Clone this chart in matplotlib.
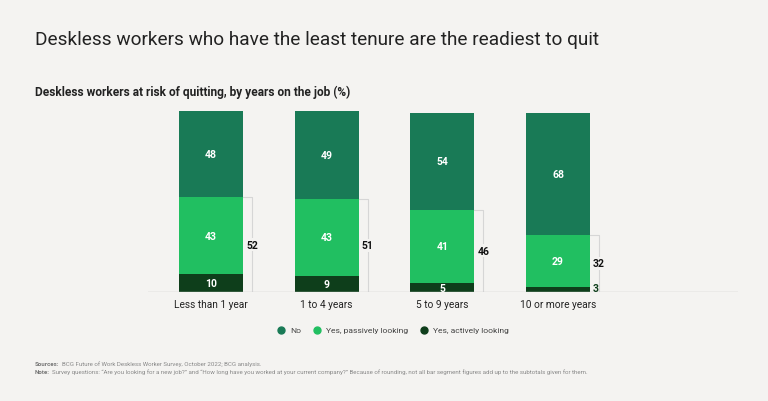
import matplotlib
matplotlib.use("Agg")
import matplotlib.pyplot as plt
from matplotlib.lines import Line2D

plt.rcParams['font.family'] = ['Roboto', 'DejaVu Sans']

categories = ["Less than 1 year", "1 to 4 years", "5 to 9 years", "10 or more years"]
no_vals = [48, 49, 54, 68]
passive_vals = [43, 43, 41, 29]
active_vals = [10, 9, 5, 3]
subtotals = [52, 51, 46, 32]
series_names = ["No", "Yes, passively looking", "Yes, actively looking"]

BG = "#f4f3f1"
C_NO = "#197a56"
C_PAS = "#21bf61"
C_ACT = "#0e3e1b"

fig = plt.figure(figsize=(7.68, 4.02), dpi=100, facecolor=BG)
W, H = 768, 402
ax_left, ax_right = 148 / W, 738 / W
ax_bottom = (H - 293) / H
ax_h = 197 / H
ax = fig.add_axes([ax_left, ax_bottom, ax_right - ax_left, ax_h])
ax.set_facecolor(BG)

x = list(range(len(categories)))
bw = 0.553
ax.bar(x, active_vals, width=bw, color=C_ACT, zorder=3)
ax.bar(x, passive_vals, width=bw, bottom=active_vals, color=C_PAS, zorder=3)
bot2 = [a + p for a, p in zip(active_vals, passive_vals)]
ax.bar(x, no_vals, width=bw, bottom=bot2, color=C_NO, zorder=3)

ax.set_xlim(-0.545, 4.556)
ax.set_ylim(0, 110)
for s in ax.spines.values():
    s.set_visible(False)
ax.set_yticks([])
ax.set_xticks(x)
ax.set_xticklabels(categories, fontsize=7.3, color="#222222")
ax.tick_params(axis='x', length=0, pad=5)
ax.axhline(0, color="#c8c8c8", lw=1.0, zorder=4)

for i in x:
    a, p, n = active_vals[i], passive_vals[i], no_vals[i]
    ax.text(i, a + p + n / 2, str(n), ha='center', va='center', color='white',
            fontsize=7.5, fontweight='bold', zorder=5)
    ax.text(i, a + p / 2, str(p), ha='center', va='center', color='white',
            fontsize=7.5, fontweight='bold', zorder=5)
    if a >= 4:
        ax.text(i, a / 2, str(a), ha='center', va='center', color='white',
                fontsize=7.5, fontweight='bold', zorder=5)
    else:
        ax.text(i + bw / 2 + 0.02, a / 2 + 0.6, str(a), ha='left', va='center', color=C_ACT,
                fontsize=7.5, fontweight='bold', zorder=5)
    top = a + p
    xr = i + bw / 2
    xb = xr + 0.078
    ax.plot([xr, xb, xb], [top, top, 0], color="#d6d6d6", lw=0.8, zorder=2)
    ax.text(xb, top / 2, str(subtotals[i]), ha='center', va='center', color='#111111',
            fontsize=7.5, fontweight='bold', zorder=5,
            bbox=dict(boxstyle='square,pad=0.15', fc=BG, ec='none'))

fig.text(35 / W, 1 - 40 / H, "Deskless workers who have the least tenure are the readiest to quit",
         fontsize=13.7, color="#222222", ha='left', va='center')
fig.text(35 / W, 1 - 92 / H, "Deskless workers at risk of quitting, by years on the job (%)",
         fontsize=8.6, fontweight='bold', color="#222222", ha='left', va='center')

handles = [Line2D([], [], marker='o', ls='none', color=c, markersize=5)
           for c in (C_NO, C_PAS, C_ACT)]
fig.legend(handles, series_names, loc='center', bbox_to_anchor=(391 / W, 1 - 331 / H),
           ncol=3, frameon=False, fontsize=6.1, handletextpad=0.05, columnspacing=0.9,
           labelcolor="#444444")

fig.canvas.draw()
renderer = fig.canvas.get_renderer()

def labeled_line(y, bold, rest, size=4.4):
    t = fig.text(35 / W, 1 - y / H, bold, fontsize=size, fontweight='bold', color="#777777",
                 ha='left', va='baseline')
    bb = t.get_window_extent(renderer)
    fig.text(bb.x1 / W + 2 / W, 1 - y / H, rest, fontsize=size, color="#888888",
             ha='left', va='baseline')

labeled_line(366, "Sources:", "BCG Future of Work Deskless Worker Survey, October 2022; BCG analysis.")
labeled_line(374, "Note:", "Survey questions: \u201cAre you looking for a new job?\u201d and \u201cHow long have you worked at your current company?\u201d Because of rounding, not all bar segment figures add up to the subtotals given for them.")

fig.savefig("out.png", dpi=100, facecolor=BG)
